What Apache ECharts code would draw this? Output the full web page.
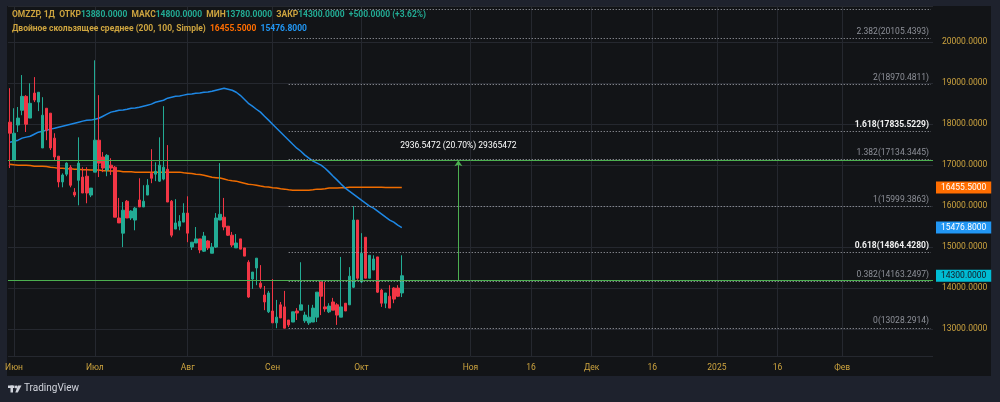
<!DOCTYPE html>
<html>
<head>
<meta charset="utf-8">
<script src="https://cdn.jsdelivr.net/npm/echarts@6/dist/echarts.min.js"></script>
<style>
html, body { margin: 0; padding: 0; background: #1e222d; }
#wrap { position: relative; width: 1000px; height: 402px; }
#pane { position: absolute; left: 7px; top: 6px; width: 984px; height: 370px; background: #121417; }
#main { position: absolute; left: 0; top: 0; width: 1000px; height: 402px; }
</style>
</head>
<body>
<div id="wrap"><div id="pane"></div><div id="main"></div></div>
<script>
// дневные свечи OMZZP
const openP = [18050, 17120, 17980, 18340, 18680, 18150, 18760, 18540, 17420, 18390,
  18270, 17660, 17220, 16590, 16780, 16950, 16340, 16630, 16710, 16730,
  16270, 16830, 17610, 17200, 16880, 17000, 16950, 15710, 15340, 16120,
  15710, 15660, 16150, 15980, 16270, 16800, 16780, 16610, 16660, 16900,
  16120, 15440, 15510, 15610, 15830, 15000, 15100, 15200, 14900, 15150,
  14850, 15000, 15660, 15730, 15510, 15290, 14980, 15200, 14980, 14630,
  14220, 14490, 14120, 13830, 13420, 13440, 13150, 13590, 13540, 13220,
  13170, 13440, 13460, 13200, 13150, 13170, 13290, 14150, 13540, 13420,
  13660, 13590, 13290, 13630, 13590, 14020, 15660, 14150, 15240, 14240,
  14440, 14760, 13950, 13630, 13800, 14000, 14000, 13880]
const closeP = [17780, 17780, 18150, 18680, 18000, 18510, 18590, 18780, 18220, 17850,
  17420, 17200, 16590, 16760, 17050, 16510, 16270, 17050, 16320, 16320,
  16440, 17610, 17050, 16930, 17240, 16930, 15730, 15590, 15900, 15710,
  15880, 15950, 15980, 16120, 16510, 16680, 16850, 17000, 16950, 16100,
  15290, 15590, 15630, 15830, 15340, 15120, 15200, 14930, 15270, 14980,
  15000, 15710, 15800, 15490, 15290, 15050, 15100, 14950, 14780, 13780,
  14390, 14730, 14020, 13660, 13880, 13150, 13290, 13270, 13020, 13100,
  13420, 13390, 13590, 13340, 13290, 13510, 13900, 13800, 13490, 13560,
  13460, 13340, 13540, 13440, 14290, 15660, 14240, 14850, 14240, 14800,
  14710, 13900, 13630, 13880, 13510, 13730, 13800, 14300]
const lowP = [16930, 17120, 17810, 18220, 17810, 18150, 18540, 18320, 17420, 17610,
  17370, 17120, 16460, 16460, 16730, 16460, 16220, 16020, 16320, 16070,
  16220, 16830, 16710, 16830, 16730, 16760, 15730, 15590, 15000, 15710,
  15660, 15410, 15980, 15980, 16270, 16560, 16610, 16590, 16630, 16100,
  15240, 15440, 15410, 15610, 15120, 14930, 15100, 14850, 14880, 14930,
  14850, 14980, 15660, 15410, 15270, 15000, 14980, 14950, 14780, 13760,
  13980, 14070, 13980, 13460, 13390, 13150, 13020, 13270, 13020, 13050,
  13170, 13220, 13460, 13150, 13100, 13170, 13170, 13340, 13420, 13390,
  13460, 13100, 13290, 13440, 13590, 14000, 14200, 14120, 14240, 14240,
  14440, 13880, 13540, 13510, 13510, 13630, 13780, 13780]
const highP = [18880, 18390, 18420, 19200, 18710, 19000, 19150, 18780, 18660, 18390,
  18270, 17780, 17220, 16800, 17070, 17000, 16440, 17680, 16950, 16950,
  16440, 19560, 18710, 17320, 17270, 17170, 16980, 16200, 16100, 16150,
  15900, 15980, 16680, 16510, 16660, 17390, 17070, 17680, 18440, 17490,
  16150, 16170, 15780, 16070, 16240, 15120, 15490, 15200, 15370, 15170,
  15100, 15830, 17050, 16200, 15510, 15370, 15320, 15200, 14980, 14680,
  14390, 14730, 14560, 14050, 13930, 14220, 13710, 13660, 13930, 13220,
  13420, 13510, 14630, 13420, 13590, 13590, 13900, 14150, 14150, 13630,
  13760, 13630, 14760, 13630, 14510, 16000, 15660, 15340, 15240, 14800,
  14800, 14760, 13980, 13880, 14070, 14020, 14070, 14800]

// двойное скользящее среднее: 200 (оранж.) и 100 (синее)
const ma200 = [17025, 17010, 17000, 17000, 17000, 16990, 16975, 16975, 16975, 16965,
  16950, 16940, 16925, 16925, 16915, 16915, 16900, 16900, 16890, 16890,
  16880, 16880, 16880, 16865, 16865, 16855, 16855, 16855, 16840, 16840,
  16840, 16830, 16830, 16830, 16830, 16830, 16830, 16830, 16830, 16830,
  16830, 16830, 16830, 16815, 16805, 16795, 16780, 16770, 16755, 16730,
  16705, 16695, 16685, 16660, 16635, 16620, 16610, 16585, 16560, 16535,
  16525, 16510, 16490, 16475, 16465, 16450, 16440, 16425, 16415, 16400,
  16390, 16390, 16385, 16385, 16390, 16400, 16415, 16415, 16425, 16440,
  16440, 16440, 16450, 16450, 16460, 16460, 16460, 16460, 16460, 16460,
  16460, 16460, 16460, 16455, 16455, 16455, 16455, 16455.5]
const ma100 = [17560, 17585, 17610, 17660, 17685, 17705, 17755, 17805, 17830, 17855,
  17880, 17900, 17925, 17950, 17975, 18000, 18025, 18050, 18075, 18095,
  18100, 18120, 18145, 18195, 18245, 18295, 18315, 18340, 18345, 18365,
  18390, 18395, 18415, 18440, 18465, 18490, 18535, 18560, 18585, 18635,
  18660, 18685, 18690, 18710, 18730, 18735, 18755, 18760, 18780, 18785,
  18805, 18830, 18855, 18880, 18855, 18830, 18780, 18705, 18610, 18510,
  18440, 18365, 18295, 18195, 18100, 18000, 17900, 17805, 17705, 17610,
  17510, 17415, 17340, 17245, 17170, 17100, 17050, 17000, 16925, 16830,
  16730, 16635, 16535, 16440, 16365, 16295, 16220, 16145, 16075, 16000,
  15950, 15880, 15805, 15730, 15660, 15610, 15535, 15476.8]

// ось времени: всего слотов (история + будущее), метки
const slotCount = 229
const tickIdx = [1, 21, 44, 65, 87, 114, 129, 144, 159, 175, 190, 206]
const tickLabels = ['Июн', 'Июл', 'Авг', 'Сен', 'Окт', 'Ноя', '16', 'Дек', '16', '2025', '16', 'Фев']
const priceTicks = [13000, 14000, 15000, 16000, 17000, 18000, 19000, 20000]

// коррекция Фибоначчи
const fibRatios = [0, 0.382, 0.618, 1, 1.382, 1.618, 2, 2.382, 2.618]
const fibPrices = [13028.2914, 14163.2497, 14864.4280, 15999.3863, 17134.3445, 17835.5229, 18970.4811, 20105.4393, 20806.6178]
const fibStartIdx = 69

// диапазон цен (измерение)
const rangeLow = 14186.4528
const rangeHigh = 17123.0000
const rangeIdx = 111

const GOLD = '#cda43f'
const TEAL = '#22ab94'
const GRID = '#25282f'
const FONT = 'Roboto'
const FS = 8.5
const YMIN = 12341
const YMAX = 20886

const categories = []
for (let i = 0; i < slotCount; i++) categories.push(String(i))
const candleData = openP.map((o, i) => [o, closeP[i], lowP[i], highP[i]])

const last = openP.length - 1
const f4 = v => v.toFixed(4)
const chg = closeP[last] - closeP[last - 1]
const chgPct = chg / closeP[last - 1] * 100

const mychart = echarts.init(document.getElementById('main'))

// уровни фибо
const fibLines = fibRatios.map((r, i) => {
  const hi = r === 0.618 || r === 1.618
  return [
    {
      coord: [fibStartIdx, fibPrices[i]],
      label: {
        show: r !== 2.618,
        position: 'insideEndTop',
        distance: 2,
        formatter: r + '(' + f4(fibPrices[i]) + ')',
        color: hi ? '#f0f0f0' : '#8e9199',
        fontWeight: hi ? 'bold' : 'normal',
        fontSize: FS,
        fontFamily: FONT
      }
    },
    { coord: [slotCount - 1, fibPrices[i]] }
  ]
})

const rangeText = f4(rangeHigh - rangeLow) + ' (' + ((rangeHigh - rangeLow) / rangeLow * 100).toFixed(2) + '%) ' + Math.round((rangeHigh - rangeLow) * 10000)

const tag = (value, bg, fg) => ({
  yAxis: value,
  lineStyle: { color: 'rgba(0,0,0,0)', type: 'solid' },
  label: {
    show: true, position: 'end', distance: 3, formatter: f4(value),
    backgroundColor: bg, color: fg, padding: [2, 5, 1, 5], fontSize: FS, fontFamily: FONT
  }
})

var option = {
  animation: false,
  title: [
    {
      left: 12, top: 10, padding: 0,
      text: '{l|OMZZP, 1Д  ОТКР}{v|' + f4(openP[last]) + '}{l|  МАКС}{v|' + f4(highP[last]) +
        '}{l|  МИН}{v|' + f4(lowP[last]) + '}{l|  ЗАКР}{v|' + f4(closeP[last]) +
        '}{v|  +' + f4(chg) + ' (+' + chgPct.toFixed(2) + '%)}',
      textStyle: {
        fontSize: FS, fontFamily: FONT,
        rich: { l: { color: GOLD, fontSize: FS, fontFamily: FONT }, v: { color: TEAL, fontSize: FS, fontFamily: FONT } }
      }
    },
    {
      left: 12, top: 24, padding: 0,
      text: '{l|Двойное скользящее среднее (200, 100, Simple)}  {o|' + f4(ma200[last]) + '}  {b|' + f4(ma100[last]) + '}',
      textStyle: {
        fontSize: FS, fontFamily: FONT,
        rich: {
          l: { color: GOLD, fontSize: FS, fontFamily: FONT },
          o: { color: '#ff6d00', fontSize: FS, fontFamily: FONT },
          b: { color: '#2196f3', fontSize: FS, fontFamily: FONT }
        }
      }
    }
  ],
  grid: { left: 8, right: 67, top: 6, bottom: 46 },
  xAxis: {
    type: 'category',
    data: categories,
    boundaryGap: true,
    axisLine: { show: false },
    axisTick: { show: false },
    splitLine: {
      show: true,
      alignWithLabel: true,
      interval: (i) => tickIdx.includes(i),
      lineStyle: { color: GRID, width: 1 }
    },
    axisLabel: {
      interval: (i) => tickIdx.includes(i),
      formatter: (v, i) => tickLabels[tickIdx.indexOf(i)],
      color: GOLD, fontSize: FS, fontFamily: FONT, margin: 7
    }
  },
  yAxis: {
    type: 'value',
    position: 'right',
    min: YMIN,
    max: YMAX,
    splitNumber: 8,
    axisLine: { show: false },
    axisTick: { show: false },
    splitLine: { show: true, lineStyle: { color: GRID, width: 1 } },
    axisLabel: {
      customValues: priceTicks,
      formatter: v => f4(v),
      color: GOLD, fontSize: FS, fontFamily: FONT, margin: 9
    }
  },
  series: [
    {
      name: 'MA200',
      type: 'line',
      data: ma200,
      symbol: 'none',
      z: 2,
      lineStyle: { color: '#ef6c00', width: 1.5 }
    },
    {
      name: 'MA100',
      type: 'line',
      data: ma100,
      symbol: 'none',
      z: 2,
      lineStyle: { color: '#1e88e5', width: 1.5 }
    },
    {
      name: 'OMZZP',
      type: 'candlestick',
      data: candleData,
      barWidth: 3,
      z: 3,
      itemStyle: {
        color: TEAL, color0: '#f23645',
        borderColor: TEAL, borderColor0: '#f23645', borderWidth: 1
      }
    },
    {
      name: 'levels',
      type: 'line',
      data: [],
      z: 4,
      markLine: {
        silent: true, symbol: 'none',
        lineStyle: { color: '#a9acb4', width: 1, type: [1, 2] },
        data: fibLines.concat([
          { yAxis: rangeLow, lineStyle: { color: '#4caf50', type: 'solid', width: 1 }, label: { show: false } },
          { yAxis: rangeHigh, lineStyle: { color: '#4caf50', type: 'solid', width: 1 }, label: { show: false } },
          [
            {
              coord: [rangeIdx, rangeLow],
              symbol: 'none',
              lineStyle: { color: '#4caf50', type: 'solid', width: 1 },
              label: { show: true, position: 'end', distance: 10, formatter: rangeText, color: '#ffffff', fontSize: FS, fontFamily: FONT }
            },
            { coord: [rangeIdx, rangeHigh], symbol: 'arrow', symbolSize: 6 }
          ],
          tag(ma200[last], '#ff6d00', '#ffffff'),
          tag(ma100[last], '#2196f3', '#ffffff'),
          tag(closeP[last], '#00bcd4', '#131722')
        ])
      }
    }
  ],
  graphic: [
    { type: 'rect', shape: { x: 8, y: 385.5, width: 6.5, height: 2.5 }, style: { fill: '#d1d4dc' } },
    { type: 'rect', shape: { x: 10.5, y: 385.5, width: 2.5, height: 7 }, style: { fill: '#d1d4dc' } },
    { type: 'circle', shape: { cx: 16.2, cy: 387, r: 1.4 }, style: { fill: '#d1d4dc' } },
    { type: 'polygon', shape: { points: [[18, 385.5], [21.5, 385.5], [17.8, 392.5], [15.3, 392.5]] }, style: { fill: '#d1d4dc' } },
    { type: 'text', left: 24, top: 383, style: { text: 'TradingView', fill: '#d1d4dc', font: '10px Roboto' } }
  ]
}

mychart.setOption(option)

window.addEventListener('resize', () => {
  mychart.resize()
})
</script>
</body>
</html>
